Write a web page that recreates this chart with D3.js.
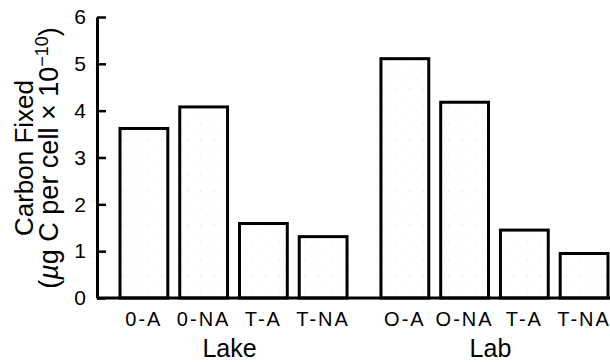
<!DOCTYPE html>
<html>
<head>
<meta charset="utf-8">
<script src="https://cdn.jsdelivr.net/npm/d3@7"></script>
<style>
  html, body { margin: 0; padding: 0; background: #fff; }
  svg { display: block; font-family: "Liberation Sans", Arial, Helvetica, sans-serif; }
</style>
</head>
<body>
<div id="chart"></div>
<script>
// data
const groups = ['Lake', 'Lab'];
const treatments = ['0-A', '0-NA', 'T-A', 'T-NA'];
const labTreatmentLabels = ['O-A', 'O-NA', 'T-A', 'T-NA'];
const lakeValues = [3.62, 4.08, 1.59, 1.31];
const labValues = [5.11, 4.18, 1.45, 0.95];
const yTicks = [0, 1, 2, 3, 4, 5, 6];

const width = 610, height = 362;
const baseY = 298, topY = 17;
const axisX = 97;

const svg = d3.select('#chart')
    .append('svg')
    .attr('width', width)
    .attr('height', height);

// faint stipple for the bar fill
const defs = svg.append('defs');
const pat = defs.append('pattern')
    .attr('id', 'stip')
    .attr('width', 13)
    .attr('height', 17)
    .attr('patternUnits', 'userSpaceOnUse');
pat.append('rect').attr('width', 13).attr('height', 17).attr('fill', '#fff');
pat.append('circle').attr('cx', 3).attr('cy', 4).attr('r', 0.6).attr('fill', '#d0d0d0');
pat.append('circle').attr('cx', 10).attr('cy', 12).attr('r', 0.5).attr('fill', '#dcdcdc');

const y = d3.scaleLinear().domain([0, 6]).range([baseY, topY]);

const xGroup = d3.scaleBand()
    .domain(groups)
    .range([120, 608])
    .paddingInner(0.13)
    .paddingOuter(0);

const xBar = d3.scaleBand()
    .domain(treatments)
    .range([0, xGroup.bandwidth()])
    .paddingInner(0.2)
    .paddingOuter(0);

const rows = [
    { group: 'Lake', values: lakeValues, labels: treatments },
    { group: 'Lab', values: labValues, labels: labTreatmentLabels }
];

// bars
rows.forEach(row => {
    const g = svg.append('g')
        .attr('transform', `translate(${xGroup(row.group)},0)`);

    g.selectAll('rect')
        .data(row.values)
        .enter()
        .append('rect')
        .attr('x', (d, i) => xBar(treatments[i]))
        .attr('y', d => y(d))
        .attr('width', xBar.bandwidth())
        .attr('height', d => baseY - y(d))
        .attr('fill', 'url(#stip)')
        .attr('stroke', '#000')
        .attr('stroke-width', 3);

    g.selectAll('text.tick-lab')
        .data(row.labels)
        .enter()
        .append('text')
        .attr('class', 'tick-lab')
        .attr('x', (d, i) => xBar(treatments[i]) + xBar.bandwidth() / 2)
        .attr('y', 326)
        .attr('text-anchor', 'middle')
        .attr('font-size', 20)
        .attr('letter-spacing', 2)
        .text(d => d);

    g.append('text')
        .attr('x', xGroup.bandwidth() / 2 - 4)
        .attr('y', 357)
        .attr('text-anchor', 'middle')
        .attr('font-size', 25)
        .text(row.group);
});

// baseline
svg.append('line')
    .attr('x1', axisX)
    .attr('x2', width)
    .attr('y1', baseY)
    .attr('y2', baseY)
    .attr('stroke', '#000')
    .attr('stroke-width', 3);

// y axis with inward ticks
const yAxis = svg.append('g')
    .attr('transform', `translate(${axisX},0)`)
    .call(d3.axisLeft(y)
        .tickValues(yTicks)
        .tickSize(-9)
        .tickSizeOuter(0)
        .tickPadding(11)
        .tickFormat(d3.format('d')));

yAxis.select('.domain')
    .attr('stroke-width', 3);
yAxis.selectAll('.tick line')
    .attr('stroke-width', 2.5);
yAxis.selectAll('.tick text')
    .attr('font-size', 21)
    .attr('font-family', '"Liberation Sans", Arial, sans-serif')
    .attr('fill', '#000');

// y title, two lines
const title = svg.append('g');
title.append('text')
    .attr('transform', 'translate(33,158) rotate(-90)')
    .attr('text-anchor', 'middle')
    .attr('font-size', 26)
    .text('Carbon Fixed');

const t2 = title.append('text')
    .attr('transform', 'translate(58,158) rotate(-90)')
    .attr('text-anchor', 'middle')
    .attr('font-size', 27);
t2.append('tspan').text('(');
t2.append('tspan').attr('font-style', 'italic').text('\u00b5');
t2.append('tspan').text('g C per cell \u00d7 10');
t2.append('tspan').attr('font-size', 18).attr('dy', -10).text('\u221210');
t2.append('tspan').attr('dy', 10).text(')');
</script>
</body>
</html>
